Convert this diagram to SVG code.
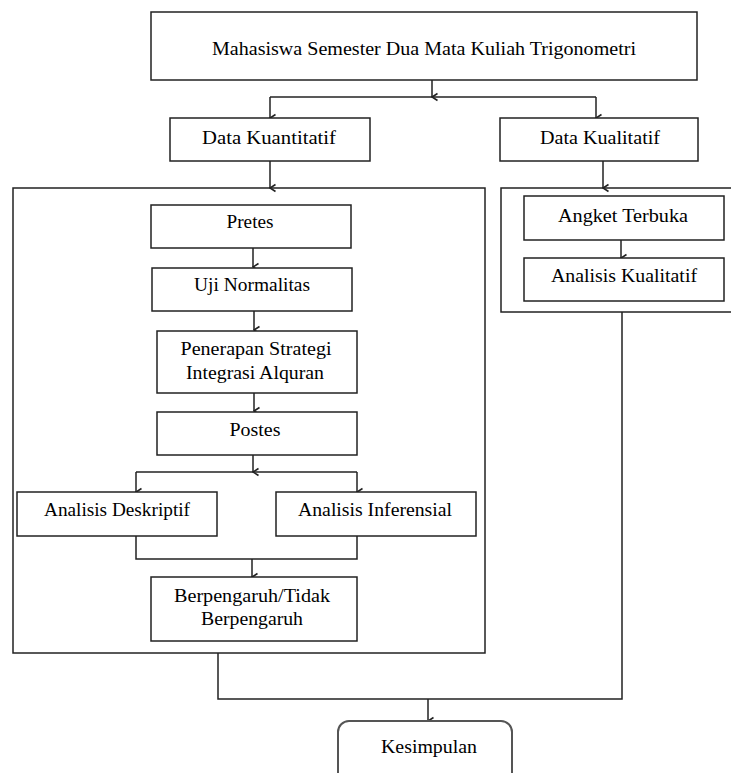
<svg xmlns="http://www.w3.org/2000/svg" width="731" height="773" viewBox="0 0 731 773">
<defs>
<style>
.box{fill:#fff;stroke:#222;stroke-width:1.5}
.cont{fill:none;stroke:#222;stroke-width:1.5}
.end{fill:#fff;stroke:#555;stroke-width:2}
.ln{fill:none;stroke:#222;stroke-width:1.5}
.ar{fill:none;stroke:#222;stroke-width:1.5;marker-end:url(#ah)}
text{font-family:"Liberation Serif","Times New Roman",serif;font-size:19px;fill:#000;text-anchor:middle}
</style>
<marker id="ah" viewBox="0 0 10 10" refX="5" refY="9" markerWidth="10" markerHeight="10" markerUnits="userSpaceOnUse" orient="auto-start-reverse">
<path d="M1.5,3.5 L5,9 L8.5,3.5" fill="none" stroke="#222" stroke-width="1.6"/>
</marker>
</defs>
<rect width="731" height="773" fill="#fff"/>

<g id="containers">
<rect id="quant-container" class="cont" x="13" y="188" width="472" height="465"/>
<rect id="qual-container" class="cont" x="501" y="188" width="240" height="124"/>
</g>

<g id="connectors">
<path class="ln" d="M270,97 H596"/>
<path class="ar" d="M432,80 V97"/>
<path class="ar" d="M270,97 V118"/>
<path class="ar" d="M596,97 V118"/>
<path class="ar" d="M270,161 V188"/>
<path class="ar" d="M603,161 V188"/>
<path class="ar" d="M253,248 V267"/>
<path class="ar" d="M254,311 V330"/>
<path class="ar" d="M254,393 V411"/>
<path class="ar" d="M253,455 V472"/>
<path class="ln" d="M136,472 H357"/>
<path class="ar" d="M136,472 V492"/>
<path class="ar" d="M357,472 V492"/>
<path class="ln" d="M136,536 V559 H357 V536"/>
<path class="ar" d="M252,559 V577"/>
<path class="ar" d="M621,240 V258"/>
<path class="ln" d="M218,653 V699 H622 V312"/>
<path class="ar" d="M428,699 V721"/>
</g>

<g id="n-mahasiswa"><rect class="box" x="151" y="12" width="546" height="68"/><text x="424" y="55" textLength="424" lengthAdjust="spacingAndGlyphs">Mahasiswa Semester Dua Mata Kuliah Trigonometri</text></g>
<g id="n-kuantitatif"><rect class="box" x="170" y="118" width="200" height="43"/><text x="269" y="144" textLength="134" lengthAdjust="spacingAndGlyphs">Data Kuantitatif</text></g>
<g id="n-kualitatif"><rect class="box" x="500" y="118" width="198" height="43"/><text x="600" y="144" textLength="120" lengthAdjust="spacingAndGlyphs">Data Kualitatif</text></g>
<g id="n-pretes"><rect class="box" x="151" y="205" width="200" height="43"/><text x="250" y="228" textLength="47" lengthAdjust="spacingAndGlyphs">Pretes</text></g>
<g id="n-normalitas"><rect class="box" x="152" y="268" width="200" height="43"/><text x="252" y="291" textLength="116" lengthAdjust="spacingAndGlyphs">Uji Normalitas</text></g>
<g id="n-penerapan"><rect class="box" x="157" y="331" width="200" height="62"/><text x="256" y="355" textLength="151" lengthAdjust="spacingAndGlyphs">Penerapan Strategi</text><text x="255" y="379" textLength="138" lengthAdjust="spacingAndGlyphs">Integrasi Alquran</text></g>
<g id="n-postes"><rect class="box" x="157" y="412" width="200" height="43"/><text x="255" y="436" textLength="51" lengthAdjust="spacingAndGlyphs">Postes</text></g>
<g id="n-deskriptif"><rect class="box" x="17" y="492" width="200" height="44"/><text x="117" y="516" textLength="146" lengthAdjust="spacingAndGlyphs">Analisis Deskriptif</text></g>
<g id="n-inferensial"><rect class="box" x="276" y="492" width="200" height="44"/><text x="375" y="516" textLength="154" lengthAdjust="spacingAndGlyphs">Analisis Inferensial</text></g>
<g id="n-berpengaruh"><rect class="box" x="151" y="577" width="206" height="64"/><text x="252" y="602" textLength="156" lengthAdjust="spacingAndGlyphs">Berpengaruh/Tidak</text><text x="252" y="625" textLength="102" lengthAdjust="spacingAndGlyphs">Berpengaruh</text></g>
<g id="n-angket"><rect class="box" x="524" y="196" width="200" height="44"/><text x="623" y="222" textLength="130" lengthAdjust="spacingAndGlyphs">Angket Terbuka</text></g>
<g id="n-analisis-kualitatif"><rect class="box" x="524" y="258" width="200" height="43"/><text x="624" y="282" textLength="146" lengthAdjust="spacingAndGlyphs">Analisis Kualitatif</text></g>
<g id="n-kesimpulan"><rect class="end" x="338" y="721" width="174" height="70" rx="11"/><text x="429" y="753" textLength="96" lengthAdjust="spacingAndGlyphs">Kesimpulan</text></g>
</svg>
